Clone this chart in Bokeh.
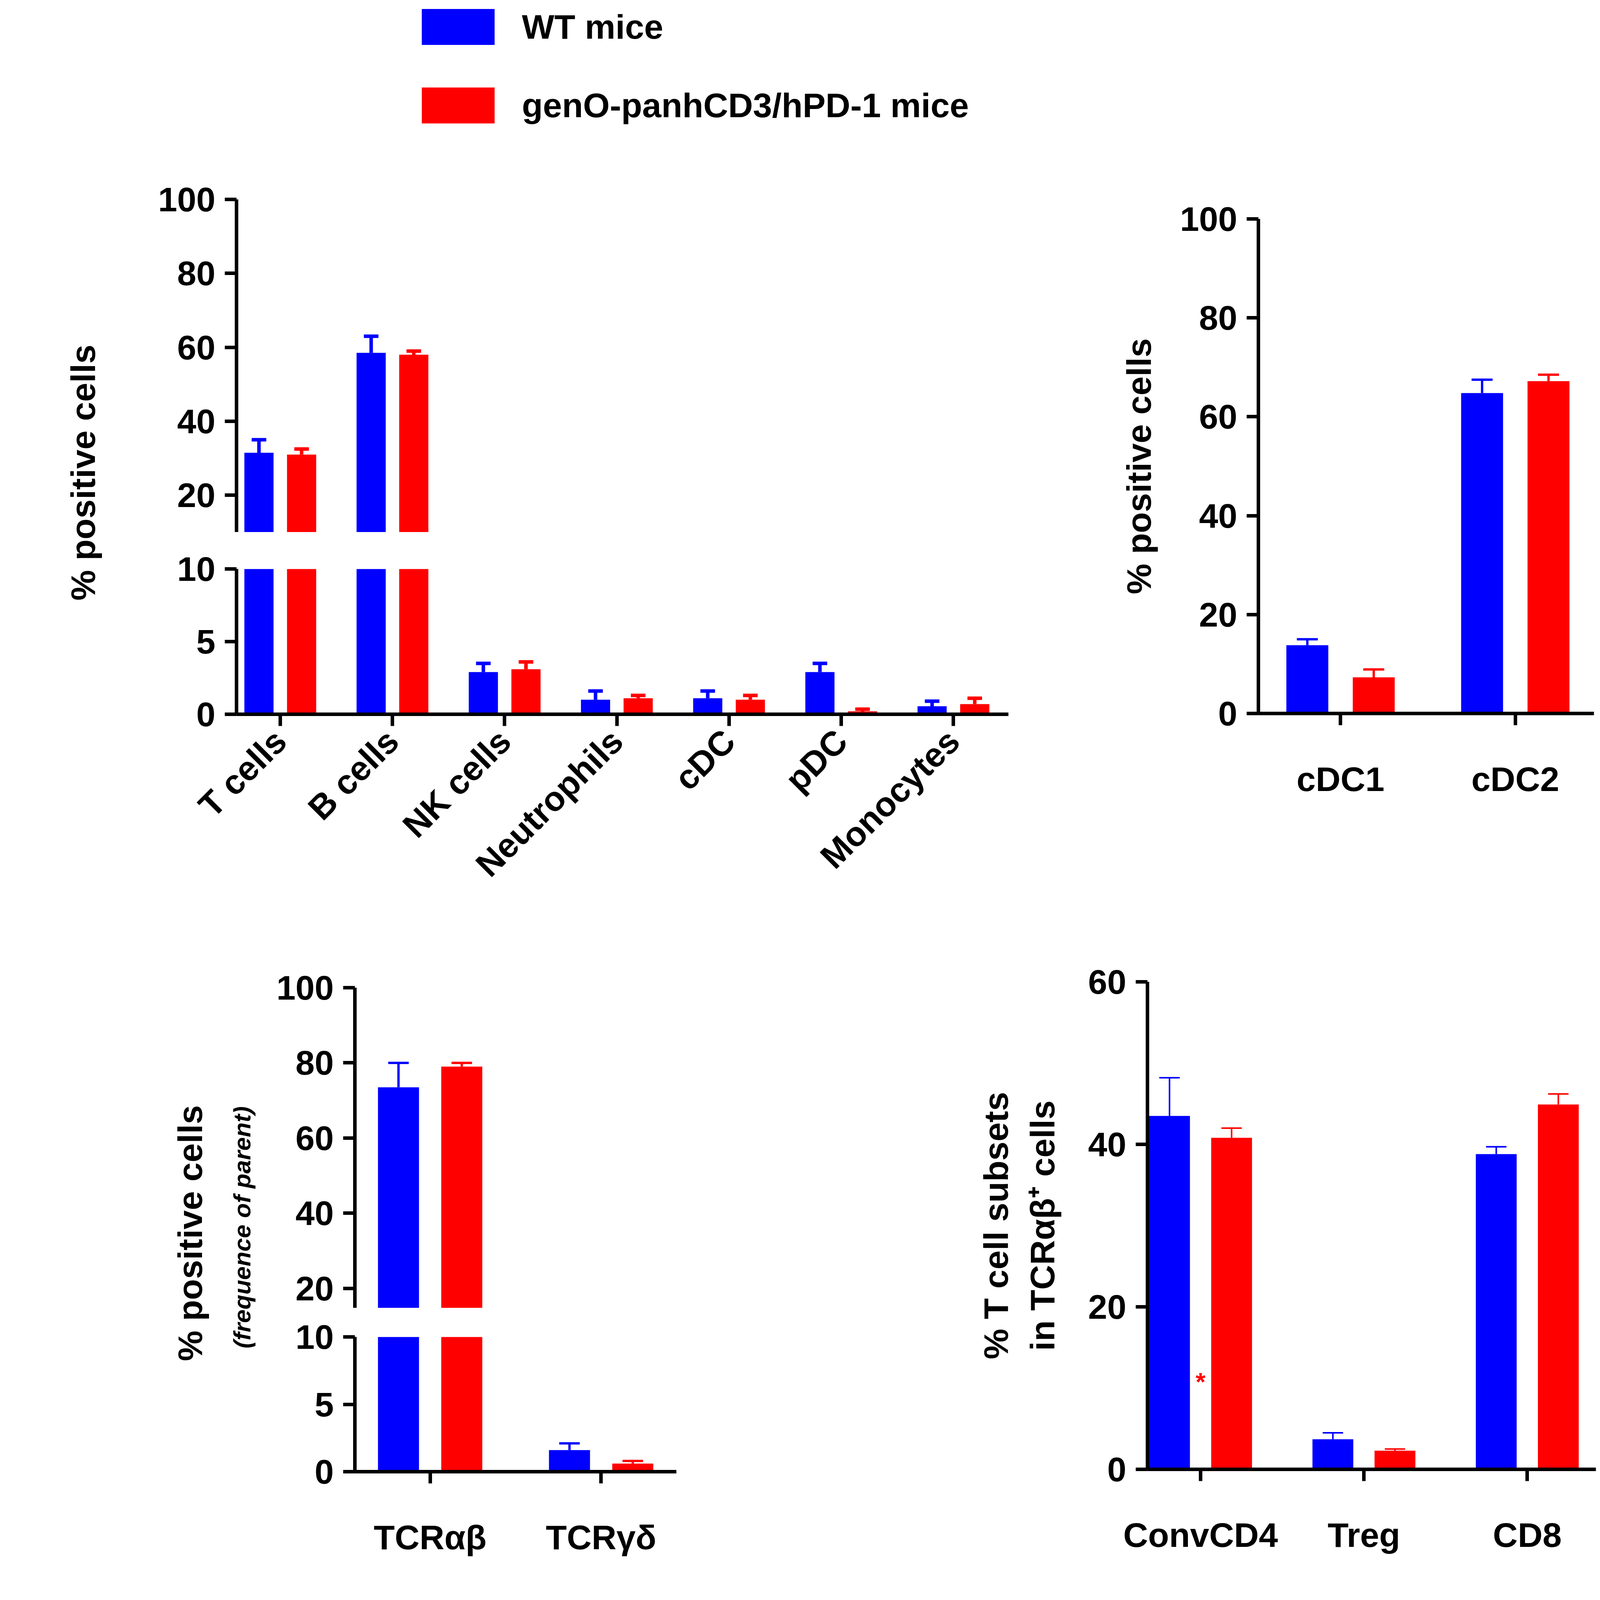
import math
from bokeh.plotting import figure
from bokeh.layouts import column, row
from bokeh.models import FixedTicker, Legend, LegendItem, ColumnDataSource
from bokeh.core.properties import value
from bokeh.embed import file_html
from bokeh.resources import INLINE

S = 2.95
def sc(v): return int(round(v * S))
FONT = "Liberation Sans"
BLUE, RED = "#0000ff", "#ff0000"
FS = f"{sc(30)}px"

# ---------------- data ----------------
p1_cats = ["T cells", "B cells", "NK cells", "Neutrophils", "cDC", "pDC", "Monocytes"]
p1_wt = [31.5, 58.5, 2.9, 1.0, 1.1, 2.9, 0.55]
p1_wt_err = [35.0, 63.0, 3.5, 1.6, 1.6, 3.5, 0.9]
p1_ko = [31.0, 58.0, 3.1, 1.1, 1.0, 0.2, 0.7]
p1_ko_err = [32.5, 59.0, 3.6, 1.3, 1.3, 0.35, 1.1]

p2_cats = ["cDC1", "cDC2"]
p2_wt = [13.8, 64.8]
p2_wt_err = [15.0, 67.5]
p2_ko = [7.3, 67.2]
p2_ko_err = [8.9, 68.5]

p3_cats = ["TCRαβ", "TCRγδ"]
p3_wt = [73.5, 1.6]
p3_wt_err = [80.0, 2.1]
p3_ko = [79.0, 0.6]
p3_ko_err = [80.0, 0.8]

p4_cats = ["ConvCD4", "Treg", "CD8"]
p4_wt = [43.5, 3.7, 38.8]
p4_wt_err = [48.2, 4.5, 39.7]
p4_ko = [40.8, 2.3, 44.9]
p4_ko_err = [42.0, 2.5, 46.2]

series_names = ["WT mice", "genO-panhCD3/hPD-1 mice"]


def base_fig(w, h, l, r, t, b, xr, yr):
    p = figure(width=sc(w), height=sc(h), x_range=xr, y_range=yr,
               output_backend="svg", toolbar_location=None,
               min_border_left=sc(l), min_border_right=sc(r),
               min_border_top=sc(t), min_border_bottom=sc(b))
    p.grid.visible = False
    p.outline_line_color = None
    p.background_fill_color = "white"
    p.border_fill_color = "white"
    return p


def style_axis(ax, ticks, labels=None):
    ax.ticker = FixedTicker(ticks=ticks)
    if labels:
        ax.major_label_overrides = {t: l for t, l in zip(ticks, labels)}
    ax.axis_line_width = sc(3)
    ax.major_tick_line_width = sc(3)
    ax.major_tick_out = sc(10)
    ax.major_tick_in = 0
    ax.minor_tick_line_color = None
    ax.major_label_text_font = FONT
    ax.major_label_text_font_style = "bold"
    ax.major_label_text_font_size = FS
    ax.major_label_text_color = "black"
    ax.major_label_standoff = sc(8)


def draw_bars(p, n, wt, wte, ko, koe, off, bw, lw):
    xs = list(range(n))
    for vals, errs, col, sgn in [(wt, wte, BLUE, -1), (ko, koe, RED, 1)]:
        x = [i + sgn * off for i in xs]
        src = ColumnDataSource(dict(x=x, top=vals, err=errs,
                                    x0=[v - bw / 4 for v in x], x1=[v + bw / 4 for v in x]))
        p.segment(x0="x", y0="top", x1="x", y1="err", source=src, line_color=col, line_width=sc(lw))
        p.segment(x0="x0", y0="err", x1="x1", y1="err", source=src, line_color=col, line_width=sc(lw))
        p.vbar(x="x", top="top", bottom=0, width=bw, source=src, fill_color=col, line_color=None)


def label_fig(w, h, texts):
    p = figure(width=sc(w), height=sc(h), x_range=(0, w), y_range=(h, 0),
               output_backend="svg", toolbar_location=None,
               min_border=0)
    p.axis.visible = False
    p.grid.visible = False
    p.outline_line_color = None
    for (x, y, t, size, style) in texts:
        p.text(x=[x], y=[y], text=[t], angle=math.pi / 2, text_align="center",
               text_baseline="middle", text_font=value(FONT), text_font_style=style,
               text_font_size=f"{sc(size)}px", text_color="black")
    return p

# ---------------- legend ----------------
leg = figure(width=sc(900), height=sc(150), x_range=(0, 1), y_range=(0, 1),
             output_backend="svg", toolbar_location=None, min_border=0)
leg.axis.visible = False
leg.grid.visible = False
leg.outline_line_color = None
r_wt = leg.vbar(x=[5], top=[1], width=0.1, fill_color=BLUE, line_color=None)
r_ko = leg.vbar(x=[5], top=[1], width=0.1, fill_color=RED, line_color=None)
lg = Legend(items=[LegendItem(label=series_names[0], renderers=[r_wt]),
                   LegendItem(label=series_names[1], renderers=[r_ko])],
            location=(sc(358), sc(39)), orientation="vertical",
            glyph_width=sc(79), glyph_height=sc(39), label_height=sc(39),
            spacing=sc(29), padding=0, margin=0, border_line_color=None,
            background_fill_alpha=0, label_text_font=FONT, label_text_font_style="bold",
            label_text_font_size=FS, label_text_color="black", label_standoff=sc(16))
leg.add_layout(lg)

# ---------------- panel 1 ----------------
xr1 = (-0.39, 6.49)
p1u = base_fig(800, 312, 105, 25, 23, 0, xr1, (10, 100))
p1l = base_fig(800, 338, 105, 25, 32, 180, xr1, (0, 10))
for p in (p1u, p1l):
    draw_bars(p, 7, p1_wt, p1_wt_err, p1_ko, p1_ko_err, 0.19, 0.26, 3)
p1u.xaxis.visible = False
style_axis(p1u.yaxis[0], [20, 40, 60, 80, 100])
style_axis(p1l.yaxis[0], [0, 5, 10])
style_axis(p1l.xaxis[0], list(range(7)), p1_cats)
p1l.xaxis.major_label_orientation = math.pi / 4
lab1 = label_fig(100, 650, [(72, 260, "% positive cells", 30, "bold")])

# ---------------- panel 2 ----------------
p2 = base_fig(650, 800, 192, 167, 190, 181, (-0.47, 1.45), (0, 100))
draw_bars(p2, 2, p2_wt, p2_wt_err, p2_ko, p2_ko_err, 0.19, 0.24, 2)
style_axis(p2.yaxis[0], [0, 20, 40, 60, 80, 100])
style_axis(p2.xaxis[0], [0, 1], p2_cats)
p2.xaxis.major_label_standoff = sc(30)
p2.yaxis.axis_label = "% positive cells"
p2.yaxis.axis_label_text_font = FONT
p2.yaxis.axis_label_text_font_style = "bold"
p2.yaxis.axis_label_text_font_size = FS
p2.yaxis.axis_label_text_color = "black"
p2.yaxis.axis_label_standoff = sc(18)

# ---------------- panel 3 ----------------
xr3 = (-0.44, 1.44)
p3u = base_fig(550, 335, 78, 193, 57, 0, xr3, (14.8, 100))
p3l = base_fig(550, 295, 78, 193, 25, 153, xr3, (0, 10))
for p in (p3u, p3l):
    draw_bars(p, 2, p3_wt, p3_wt_err, p3_ko, p3_ko_err, 0.185, 0.24, 2)
p3u.xaxis.visible = False
style_axis(p3u.yaxis[0], [20, 40, 60, 80, 100])
style_axis(p3l.yaxis[0], [0, 5, 10])
style_axis(p3l.xaxis[0], [0, 1], p3_cats)
p3l.xaxis.major_label_standoff = sc(30)
lab3 = label_fig(230, 630, [(165, 270, "% positive cells", 30, "bold"),
                            (210, 265, "(frequence of parent)", 21, "bold italic")])

# ---------------- panel 4 ----------------
p4 = base_fig(770, 630, 216, 165, 52, 155, (-0.325, 2.42), (0, 60))
draw_bars(p4, 3, p4_wt, p4_wt_err, p4_ko, p4_ko_err, 0.19, 0.25, 1.5)
style_axis(p4.yaxis[0], [0, 20, 40, 60])
style_axis(p4.xaxis[0], [0, 1, 2], p4_cats)
p4.xaxis.major_label_standoff = sc(30)
p4.text(x=[0.0], y=[9.0], text=["*"], text_color=RED, text_font=value(FONT),
        text_font_style="bold", text_font_size=f"{sc(22)}px", text_align="center")
p4.yaxis.axis_label = "% T cell subsets\nin TCRαβ⁺ cells"
p4.yaxis.axis_label_text_font = FONT
p4.yaxis.axis_label_text_font_style = "bold"
p4.yaxis.axis_label_text_font_size = FS
p4.yaxis.axis_label_text_color = "black"
p4.yaxis.axis_label_standoff = sc(22)

top_left = column(leg, row(lab1, column(p1u, p1l)))
top = row(top_left, p2)
bottom = row(row(lab3, column(p3u, p3l)), p4)
layout = column(top, bottom)

open("out.html", "w").write(file_html(layout, INLINE))
